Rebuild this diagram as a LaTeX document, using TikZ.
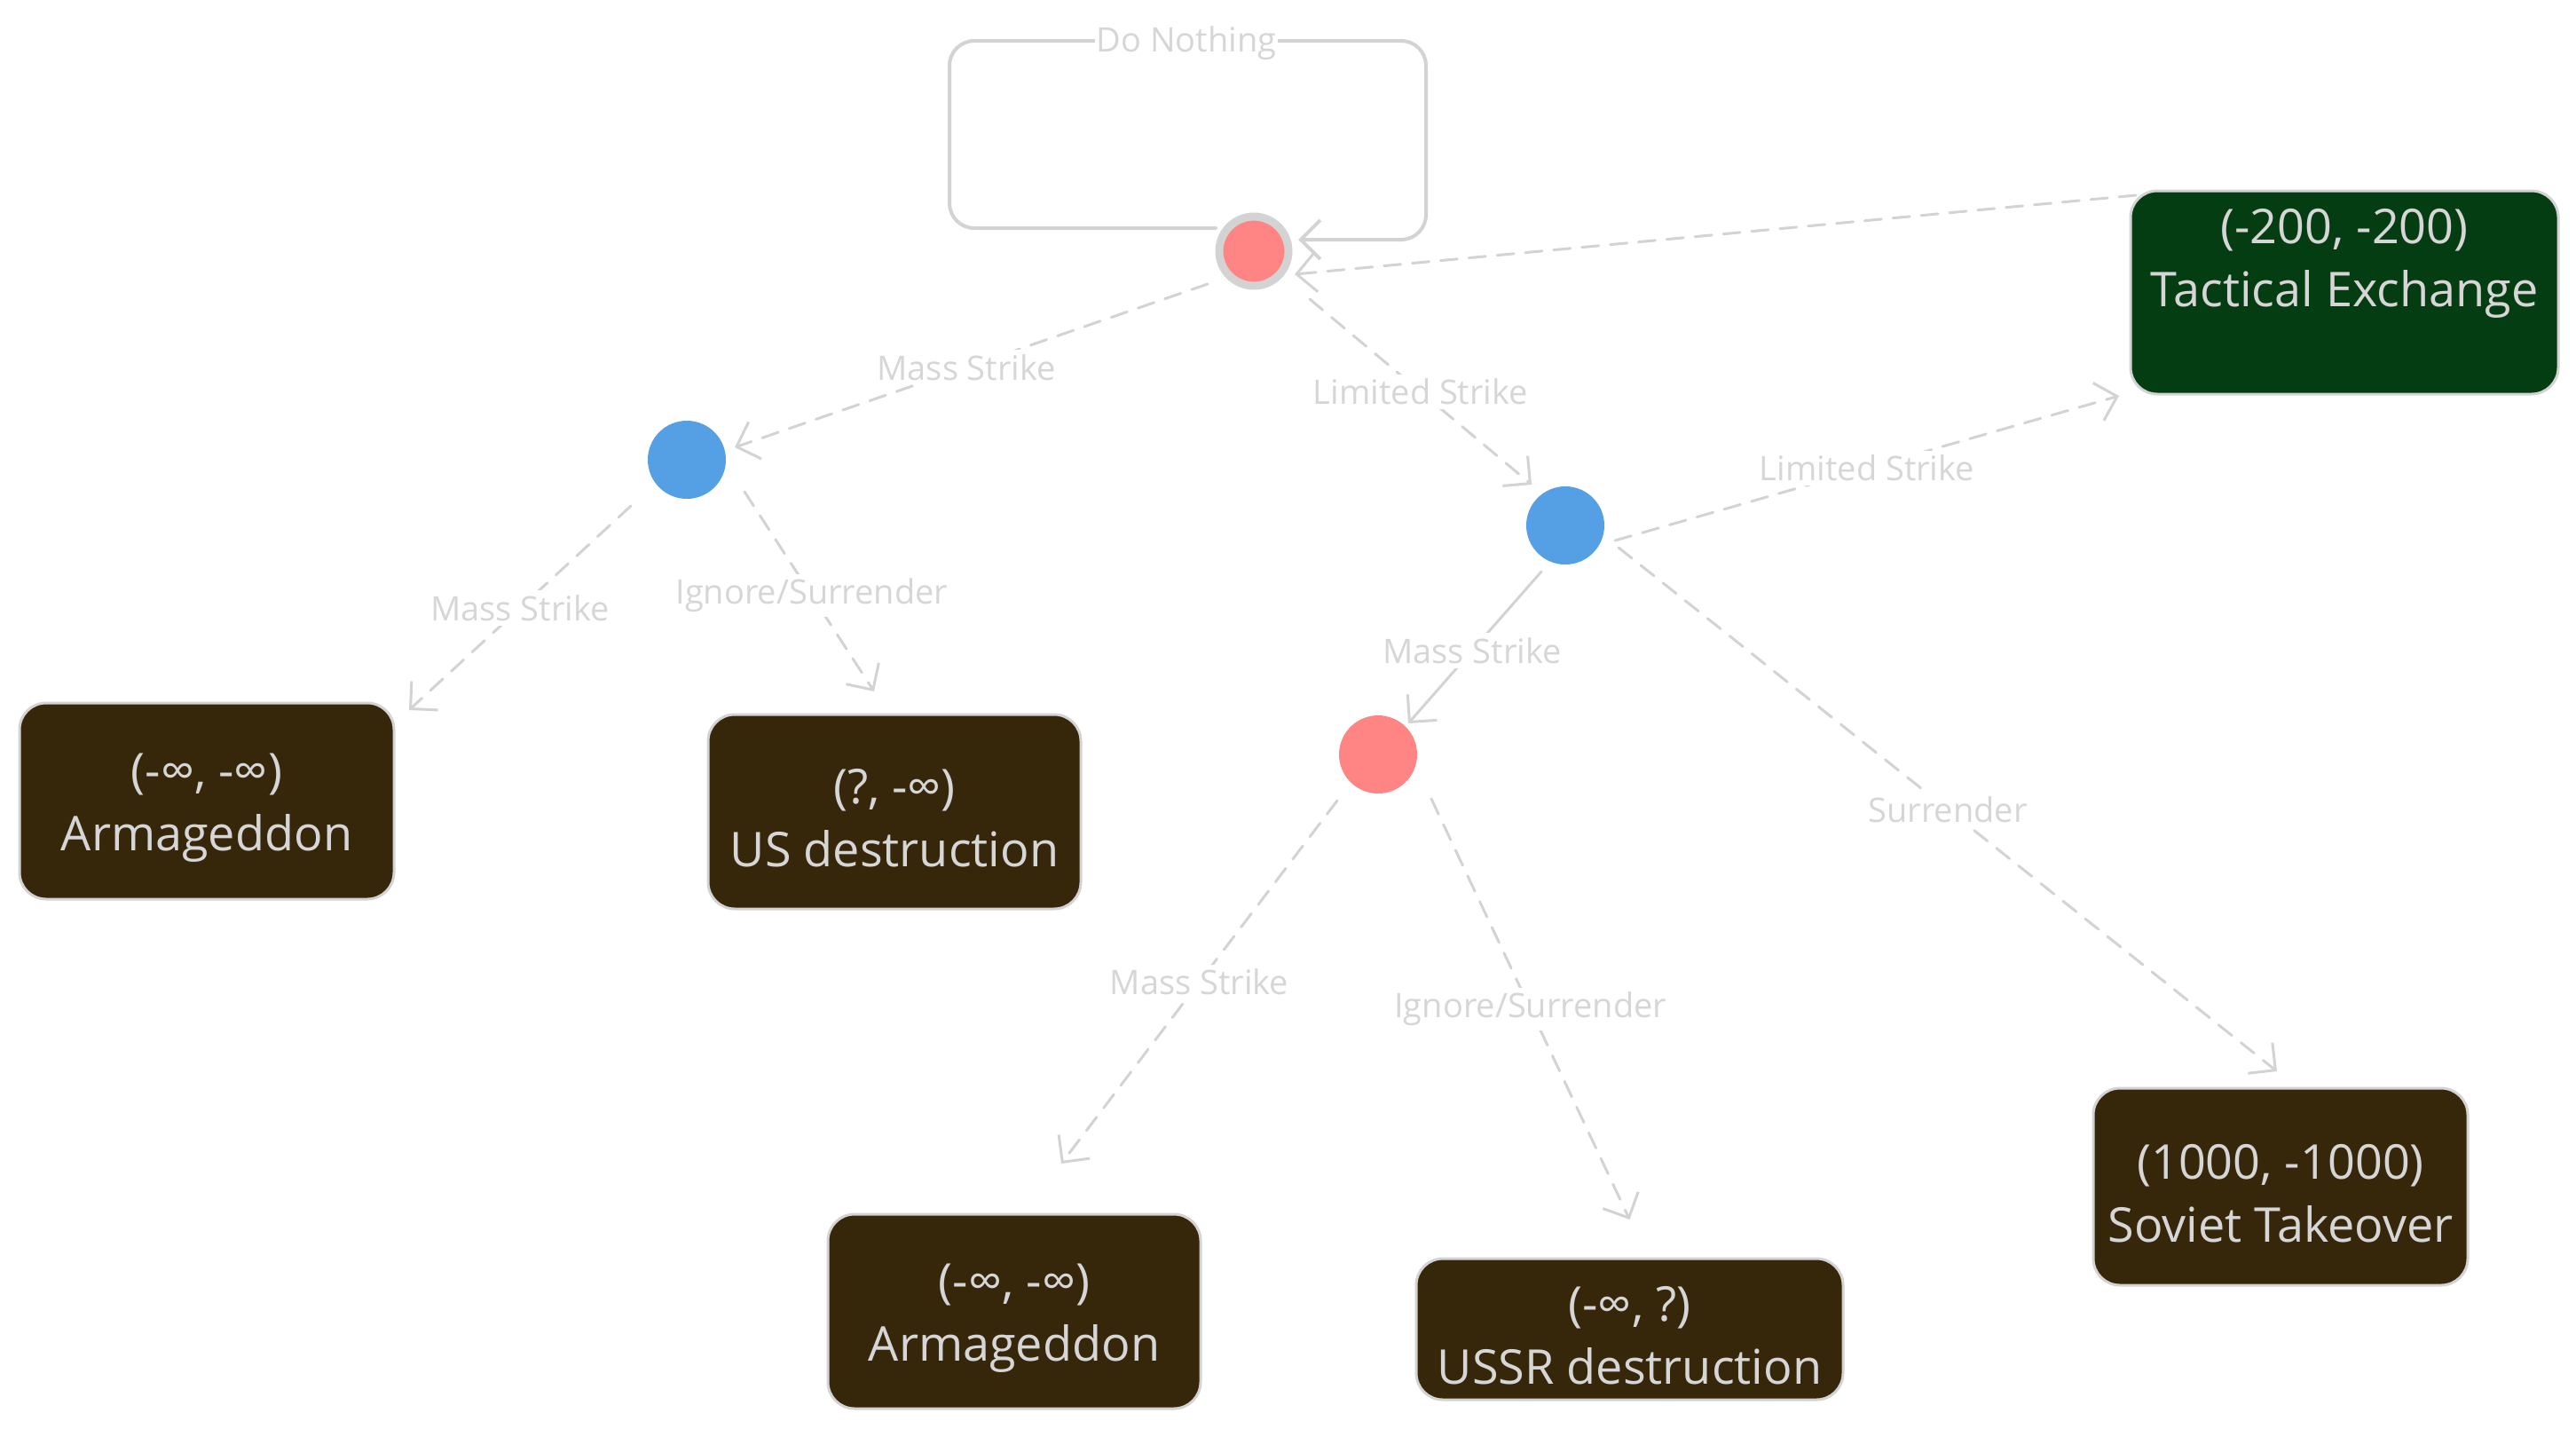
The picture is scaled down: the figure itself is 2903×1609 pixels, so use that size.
\documentclass[tikz,border=0pt]{standalone}
\usepackage{fontspec}
\setmainfont{Open Sans}
\usetikzlibrary{arrows.meta,calc}
\definecolor{edgegray}{HTML}{D3D3D3}
\definecolor{txtgray}{HTML}{D6D6D6}
\definecolor{boxbrown}{HTML}{36260A}
\definecolor{boxgreen}{HTML}{053D12}
\definecolor{nodered}{HTML}{FF8585}
\definecolor{nodeblue}{HTML}{55A0E4}
\newcommand{\toppad}{\rule{0pt}{54pt}}
\begin{document}
\begin{tikzpicture}[x=1pt,y=-1pt,
  outcome/.style={draw=edgegray, line width=3pt, fill=boxbrown, rounded corners=30pt,
    inner sep=0pt, outer sep=0pt, text=txtgray, align=center,
    font=\fontsize{54}{71}\selectfont},
  decision/.style={circle, inner sep=0pt, outer sep=0pt, minimum size=88pt},
  redstate/.style={decision, fill=nodered},
  bluestate/.style={decision, fill=nodeblue},
  tip/.style={-{Straight Barb[length=22pt,width=44pt,line width=3pt]}},
  edge/.style={draw=edgegray, line width=3pt, dash pattern=on 19pt off 13pt, line cap=round, tip},
  solidedge/.style={draw=edgegray, line width=3pt, line cap=round, tip},
  lbl/.style={fill=white, text=txtgray, inner sep=5pt, font=\fontsize{38}{46}\selectfont}
]
\useasboundingbox (0,0) rectangle (2903,1609);

% decision nodes
\node[redstate, minimum size=78pt, draw=edgegray, line width=9pt] (r1) at (1413,283) {};
\node[bluestate] (lb) at (774,518) {};
\node[bluestate] (rb) at (1764,592) {};
\node[redstate] (r2) at (1553,850) {};

% outcome boxes
\node[outcome, fill=boxgreen, minimum width=482pt, minimum height=229pt] (te) at (2642,329.5) {\toppad(-200, -200)\\Tactical Exchange\\\strut};
\node[outcome, minimum width=422pt, minimum height=221pt] (arm1) at (233,902.5) {\toppad(-∞, -∞)\\Armageddon};
\node[outcome, minimum width=420pt, minimum height=219pt] (us) at (1008,914.5) {\toppad(?, -∞)\\US destruction};
\node[outcome, minimum width=420pt, minimum height=219pt] (arm2) at (1143,1477.5) {\toppad(-∞, -∞)\\Armageddon};
\node[outcome, minimum width=481pt, minimum height=159pt] (ussr) at (1836.5,1497.5) {\toppad(-∞, ?)\\USSR destruction};
\node[outcome, minimum width=422pt, minimum height=222pt] (st) at (2570,1337) {\toppad(1000, -1000)\\Soviet Takeover};

% self loop
\draw[draw=edgegray, line width=4pt, rounded corners=28pt, line cap=round,
  -{Straight Barb[length=22pt,width=44pt,line width=4pt]}]
  ($(r1)+(-43,-26)$) -| ($(r1)+(-343,-237)$) -| ($(r1)+(194,-13)$) -- ($(r1)+(50,-13)$);
\node[lbl, inner sep=2pt] (dn) at ($(r1)+(-76,-234)$) {Do Nothing};

% connectors
\draw[edge] ($(r1)+(-52,37)$) -- node[lbl, pos=0.51] {Mass Strike} ($(lb)+(54,-14)$);
\draw[edge] ($(r1)+(63,54)$) -- node[lbl, pos=0.5] {Limited Strike} ($(rb)+(-38,-46)$);
\draw[edge] ($(te.north west)+(6,5)$) -- ($(r1)+(46,26)$);
\draw[edge] ($(rb)+(56,17)$) -- node[lbl, pos=0.5] {Limited Strike} ($(te.south west)+(-13,2)$);
\draw[solidedge] ($(rb)+(-27,52)$) -- node[lbl, pos=0.52] {Mass Strike} ($(r2)+(34,-35)$);
\draw[edge] ($(rb)+(60,25)$) -- node[lbl, pos=0.5] {Surrender} ($(st.north)+(-4,-19)$);
\draw[edge] ($(lb)+(-63,52)$) -- node[lbl, pos=0.5] {Mass Strike} ($(arm1.north east)+(17,8)$);
\draw[edge] ($(lb)+(65,36)$) -- node[lbl, pos=0.52] {Ignore/Surrender} ($(us.north)+(-23,-26)$);
\draw[edge] ($(r2)+(-46,52)$) -- node[lbl, pos=0.5] {Mass Strike} ($(arm2.north)+(53,-57)$);
\draw[edge] ($(r2)+(60,50)$) -- node[lbl, pos=0.5] {Ignore/Surrender} ($(ussr.north)+(0,-44)$);
\end{tikzpicture}
\end{document}
